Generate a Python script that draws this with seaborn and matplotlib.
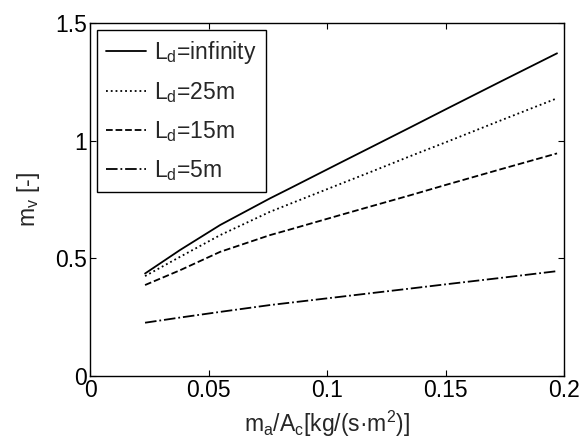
import numpy as np
import pandas as pd
import matplotlib
matplotlib.use('Agg')
import matplotlib.pyplot as plt
import seaborn as sns

# values
x_vals = [0.0232, 0.038, 0.0549, 0.0759, 0.0844, 0.1055, 0.1181, 0.135, 0.15, 0.173, 0.197]
m_inf = [0.436, 0.536, 0.642, 0.755, 0.798, 0.906, 0.970, 1.056, 1.133, 1.250, 1.371]
m_25 = [0.425, 0.507, 0.599, 0.698, 0.732, 0.816, 0.866, 0.934, 0.993, 1.085, 1.180]
m_15 = [0.387, 0.450, 0.528, 0.599, 0.623, 0.684, 0.720, 0.768, 0.812, 0.878, 0.946]
m_5 = [0.227, 0.249, 0.273, 0.302, 0.312, 0.337, 0.352, 0.372, 0.390, 0.417, 0.446]
labels = [r'L$_d$=infinity', r'L$_d$=25m', r'L$_d$=15m', r'L$_d$=5m']
styles = ['-', ':', '--', '-.']

sns.set_theme(style='ticks')
plt.rcParams['font.family'] = ['Liberation Sans', 'DejaVu Sans']
plt.rcParams['mathtext.default'] = 'regular'
fs = 16.5

df = pd.DataFrame({'x': x_vals * 4,
                   'y': m_inf + m_25 + m_15 + m_5,
                   'case': np.repeat(labels, len(x_vals))})

fig = plt.figure(figsize=(5.81, 4.41), dpi=100)
ax = fig.add_axes([0.155, 0.147, 0.816, 0.801])

for lab, ls in zip(labels, styles):
    sub = df[df['case'] == lab]
    sns.lineplot(data=sub, x='x', y='y', ax=ax, color='black',
                 linestyle=ls, linewidth=1.3, label=lab)

ax.set_xlim(0, 0.2)
ax.set_ylim(0, 1.5)
ax.set_xticks([0, 0.05, 0.1, 0.15, 0.2])
ax.set_xticklabels(['0', '0.05', '0.1', '0.15', '0.2'])
ax.set_yticks([0, 0.5, 1, 1.5])
ax.set_yticklabels(['0', '0.5', '1', '1.5'])
ax.tick_params(direction='in', length=4, width=0.8, top=True, right=True,
               labelsize=fs, colors='black', pad=2)
for s in ax.spines.values():
    s.set_visible(True)
    s.set_color('black')
    s.set_linewidth(1.0)

ax.set_xlabel(r'm$_a$/A$_c$[kg/(s·m$^2$)]', fontsize=fs, labelpad=5)
ax.set_ylabel(r'm$_v$ [-]', fontsize=fs, labelpad=10)

leg = ax.legend(loc='upper left', fontsize=fs, frameon=True, fancybox=False,
                handlelength=1.75, handletextpad=0.35, borderpad=0.4,
                labelspacing=0.62, borderaxespad=0.3)
leg.get_frame().set_edgecolor('black')
leg.get_frame().set_linewidth(1.0)
leg.get_frame().set_alpha(1)

fig.savefig('out.png', dpi=100)
